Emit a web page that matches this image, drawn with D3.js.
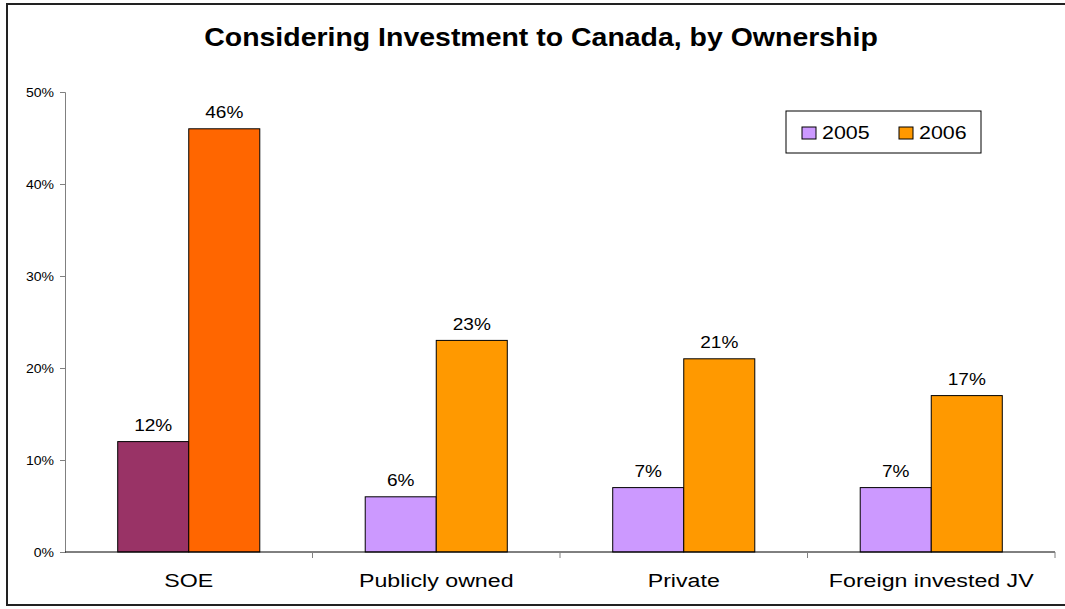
<!DOCTYPE html>
<html>
<head>
<meta charset="utf-8">
<script src="https://cdn.jsdelivr.net/npm/d3@7"></script>
<style>
  html, body { margin: 0; padding: 0; background: #fff; }
  svg { display: block; font-family: "Liberation Sans", Arial, sans-serif; }
</style>
</head>
<body>
<svg id="chart" width="1065" height="609"></svg>
<script>
// Share of firms considering investment to Canada, by ownership type
const categories = ["SOE", "Publicly owned", "Private", "Foreign invested JV"];
const years = ["2005", "2006"];
const values2005 = [12, 6, 7, 7];
const values2006 = [46, 23, 21, 17];
const yTicks = [0, 10, 20, 30, 40, 50];

// SOE bars are highlighted in stronger shades
const colors2005 = ["#993366", "#CC99FF", "#CC99FF", "#CC99FF"];
const colors2006 = ["#FF6600", "#FF9900", "#FF9900", "#FF9900"];
const legendColors = ["#CC99FF", "#FF9900"];

const rows = categories.map((c, i) => ({
  category: c,
  bars: [
    { year: years[0], value: values2005[i], color: colors2005[i] },
    { year: years[1], value: values2006[i], color: colors2006[i] }
  ]
}));

// The chart's lettering is set in a horizontally widened face
const wide = (sel, sx) => sel.attr("transform", function () {
  const t = d3.select(this);
  return `translate(${+t.attr("x")},${+t.attr("y")}) scale(${sx},1)`;
}).attr("x", 0).attr("y", 0);

const svg = d3.select("#chart");

// outer frame
svg.append("rect")
  .attr("x", 7).attr("y", 4)
  .attr("width", 1070).attr("height", 601)
  .attr("fill", "none").attr("stroke", "#222").attr("stroke-width", 2);

const plot = { left: 65, right: 1055, top: 92, bottom: 552 };

const x0 = d3.scaleBand()
  .domain(categories)
  .range([plot.left, plot.right])
  .paddingInner(0.426)
  .paddingOuter(0.213);

const x1 = d3.scaleBand()
  .domain(years)
  .range([0, x0.bandwidth()]);

const y = d3.scaleLinear()
  .domain([0, 50])
  .range([plot.bottom, plot.top]);

// title
svg.append("text")
  .attr("x", 541).attr("y", 46)
  .attr("text-anchor", "middle")
  .attr("font-size", 26).attr("font-weight", "bold")
  .attr("fill", "#000")
  .text("Considering Investment to Canada, by Ownership")
  .call(wide, 1.095);

// y axis
const yAxis = svg.append("g")
  .attr("transform", `translate(${plot.left},0)`)
  .call(d3.axisLeft(y).tickValues(yTicks).tickSize(5).tickPadding(6).tickFormat(d => d + "%"));
yAxis.select(".domain").attr("stroke", "#808080");
yAxis.selectAll(".tick line").attr("stroke", "#808080");
yAxis.selectAll(".tick text")
  .attr("font-size", 12).attr("fill", "#000")
  .attr("font-family", "Liberation Sans, Arial, sans-serif")
  .attr("dy", "0.36em")
  .call(wide, 1.17);

// bars
const groups = svg.append("g").selectAll("g")
  .data(rows)
  .join("g")
  .attr("transform", d => `translate(${x0(d.category)},0)`);

groups.selectAll("rect")
  .data(d => d.bars)
  .join("rect")
  .attr("x", d => x1(d.year))
  .attr("y", d => y(d.value))
  .attr("width", x1.bandwidth())
  .attr("height", d => y(0) - y(d.value))
  .attr("fill", d => d.color)
  .attr("stroke", "#000")
  .attr("stroke-width", 1);

groups.selectAll("text")
  .data(d => d.bars)
  .join("text")
  .attr("x", d => x1(d.year) + x1.bandwidth() / 2)
  .attr("y", d => y(d.value) - 10.5)
  .attr("text-anchor", "middle")
  .attr("font-size", 16)
  .attr("fill", "#000")
  .text(d => d.value + "%")
  .call(wide, 1.19);

// x axis with ticks between categories
const xAxis = svg.append("g");
xAxis.append("line")
  .attr("x1", plot.left).attr("x2", plot.right)
  .attr("y1", y(0)).attr("y2", y(0))
  .attr("stroke", "#000").attr("stroke-width", 1);
const step = x0.step();
const boundaries = d3.range(categories.length + 1).map(i => plot.left + i * step);
xAxis.selectAll("line.tick")
  .data(boundaries.slice(1))
  .join("line")
  .attr("class", "tick")
  .attr("x1", d => d).attr("x2", d => d)
  .attr("y1", y(0)).attr("y2", y(0) + 6)
  .attr("stroke", "#808080");
xAxis.selectAll("text")
  .data(categories)
  .join("text")
  .attr("x", d => x0(d) + x0.bandwidth() / 2)
  .attr("y", 587)
  .attr("text-anchor", "middle")
  .attr("font-size", 19)
  .attr("fill", "#000")
  .text(d => d)
  .call(wide, 1.22);

// legend
const legend = svg.append("g").attr("transform", "translate(786,111)");
legend.append("rect")
  .attr("width", 195).attr("height", 42)
  .attr("fill", "#fff").attr("stroke", "#000").attr("stroke-width", 1);
const items = legend.selectAll("g.item")
  .data(years)
  .join("g")
  .attr("class", "item")
  .attr("transform", (d, i) => `translate(${16 + i * 97},0)`);
items.append("rect")
  .attr("x", 0).attr("y", 16)
  .attr("width", 14).attr("height", 12)
  .attr("fill", (d, i) => legendColors[i])
  .attr("stroke", "#000");
items.append("text")
  .attr("x", 20).attr("y", 28)
  .attr("font-size", 18)
  .attr("fill", "#000")
  .text(d => d)
  .call(wide, 1.19);
</script>
</body>
</html>
